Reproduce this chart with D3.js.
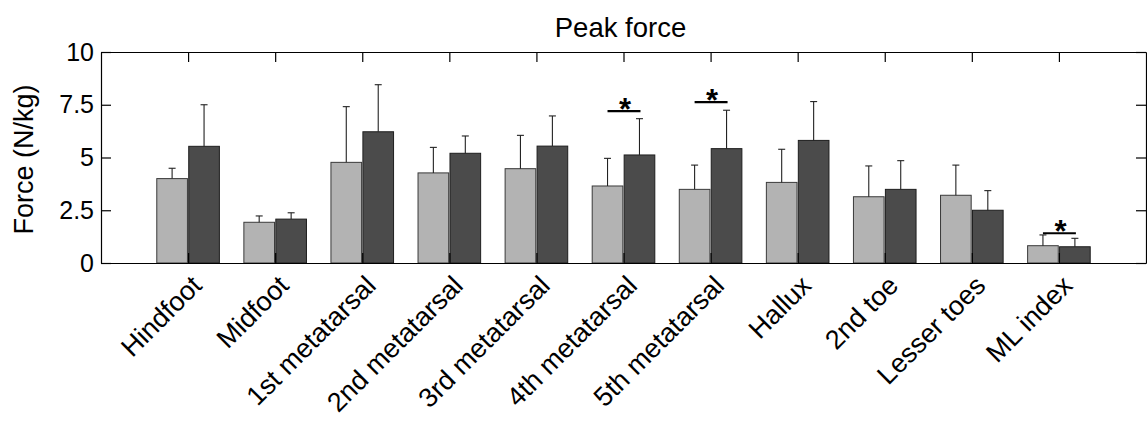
<!DOCTYPE html>
<html>
<head>
<meta charset="utf-8">
<script src="https://cdn.jsdelivr.net/npm/d3@7"></script>
<style>
  html, body { margin: 0; padding: 0; background: #fff; }
  svg { display: block; }
  text { font-family: "Liberation Sans", Arial, Helvetica, sans-serif; fill: #000; }
</style>
</head>
<body>
<svg id="chart" width="1147" height="424"></svg>
<script>
// ---- data ----
const categories = ["Hindfoot", "Midfoot", "1st metatarsal", "2nd metatarsal", "3rd metatarsal",
  "4th metatarsal", "5th metatarsal", "Hallux", "2nd toe", "Lesser toes", "ML index"];
const lightValues = [4.0, 1.93, 4.77, 4.27, 4.47, 3.65, 3.49, 3.82, 3.14, 3.21, 0.82];
const lightErrors = [4.49, 2.23, 7.41, 5.48, 6.05, 4.96, 4.64, 5.39, 4.60, 4.64, 1.33];
const darkValues  = [5.53, 2.08, 6.22, 5.20, 5.54, 5.12, 5.42, 5.81, 3.49, 2.50, 0.77];
const darkErrors  = [7.50, 2.38, 8.45, 6.02, 6.97, 6.84, 7.24, 7.65, 4.85, 3.43, 1.17];
const yTicks = [0, 2.5, 5, 7.5, 10];
const yTickLabels = ["0", "2.5", "5", "7.5", "10"];
const sigCategories = ["4th metatarsal", "5th metatarsal", "ML index"];
const sigLevels = [7.2, 7.62, 1.41];
const titleText = "Peak force";
const yLabelText = "Force (N/kg)";

// ---- layout ----
const mLeft = 101, mRight = 1146, mTop = 52, mBottom = 263;
const svg = d3.select("#chart");

const x = d3.scaleLinear().domain([0, categories.length + 1]).range([mLeft, mRight]);
const y = d3.scaleLinear().domain([0, 10]).range([mBottom, mTop]);
const bw = x(0.352) - x(0);
const gap = 0.65;
const cx = i => x(i + 1);

const lightFill = "#b3b3b3", darkFill = "#4b4b4b";

// bars
const g = svg.append("g");
g.selectAll("rect.light").data(lightValues).join("rect")
  .attr("class", "light")
  .attr("x", (d, i) => cx(i) - gap - bw)
  .attr("y", d => y(d))
  .attr("width", bw)
  .attr("height", d => y(0) - y(d))
  .attr("fill", lightFill).attr("stroke", "#3a3a3a").attr("stroke-width", 1);
g.selectAll("rect.dark").data(darkValues).join("rect")
  .attr("class", "dark")
  .attr("x", (d, i) => cx(i) + gap)
  .attr("y", d => y(d))
  .attr("width", bw)
  .attr("height", d => y(0) - y(d))
  .attr("fill", darkFill).attr("stroke", "#1e1e1e").attr("stroke-width", 1);

// error bars
function errBars(vals, errs, offset, color) {
  const eg = svg.append("g").attr("stroke", color).attr("stroke-width", 1.1);
  vals.forEach((v, i) => {
    const ex = cx(i) + offset;
    eg.append("line").attr("x1", ex).attr("x2", ex).attr("y1", y(v)).attr("y2", y(errs[i]));
    eg.append("line").attr("x1", ex - 3.5).attr("x2", ex + 3.5).attr("y1", y(errs[i])).attr("y2", y(errs[i]));
  });
}
errBars(lightValues, lightErrors, -gap - bw / 2, "#222");
errBars(darkValues, darkErrors, gap + bw / 2, "#222");

// axes frame with inward ticks
const tickLen = 10;
const axB = svg.append("g").attr("transform", `translate(0,${mBottom})`)
  .call(d3.axisBottom(x).tickValues(d3.range(1, categories.length + 1)).tickSizeInner(-tickLen).tickSizeOuter(0).tickFormat(""));
const axT = svg.append("g").attr("transform", `translate(0,${mTop})`)
  .call(d3.axisTop(x).tickValues(d3.range(1, categories.length + 1)).tickSizeInner(-tickLen).tickSizeOuter(0).tickFormat(""));
const axL = svg.append("g").attr("transform", `translate(${mLeft},0)`)
  .call(d3.axisLeft(y).tickValues(yTicks).tickSizeInner(-tickLen).tickSizeOuter(0)
    .tickFormat((d, i) => yTickLabels[i]).tickPadding(7));
const axR = svg.append("g").attr("transform", `translate(${mRight},0)`)
  .call(d3.axisRight(y).tickValues(yTicks).tickSizeInner(-tickLen).tickSizeOuter(0).tickFormat(""));
[axB, axT, axL, axR].forEach(a => {
  a.select(".domain").attr("stroke", "#000").attr("stroke-width", 1.2);
  a.selectAll(".tick line").attr("stroke", "#000").attr("stroke-width", 1.2);
});
axL.selectAll(".tick text").attr("font-size", 25).attr("font-family", "Liberation Sans, Arial, sans-serif").attr("fill", "#000");

// x labels
svg.append("g").selectAll("text").data(categories).join("text")
  .attr("transform", (d, i) => `translate(${cx(i) + 8.5},280.5) rotate(-45)`)
  .attr("text-anchor", "end")
  .attr("dy", "0.35em")
  .attr("font-size", 27)
  .text(d => d);

// significance
sigCategories.forEach((c, k) => {
  const i = categories.indexOf(c);
  const x1 = cx(i) - gap - bw / 2, x2 = cx(i) + gap + bw / 2 + 1;
  const ly = y(sigLevels[k]);
  svg.append("line").attr("x1", x1).attr("x2", x2).attr("y1", ly).attr("y2", ly)
    .attr("stroke", "#000").attr("stroke-width", 2.2);
  svg.append("text").attr("x", (x1 + x2) / 2 + 1).attr("y", ly + 9)
    .attr("text-anchor", "middle").attr("font-size", 31).attr("font-weight", "bold").text("*");
});

// title
svg.append("text").attr("x", (mLeft + mRight) / 2 - 3).attr("y", 37)
  .attr("text-anchor", "middle").attr("font-size", 27.5).text(titleText);

// y label
svg.append("text").attr("transform", `translate(33,${(mTop + mBottom) / 2 + 2}) rotate(-90)`)
  .attr("text-anchor", "middle").attr("font-size", 27).text(yLabelText);
</script>
</body>
</html>
